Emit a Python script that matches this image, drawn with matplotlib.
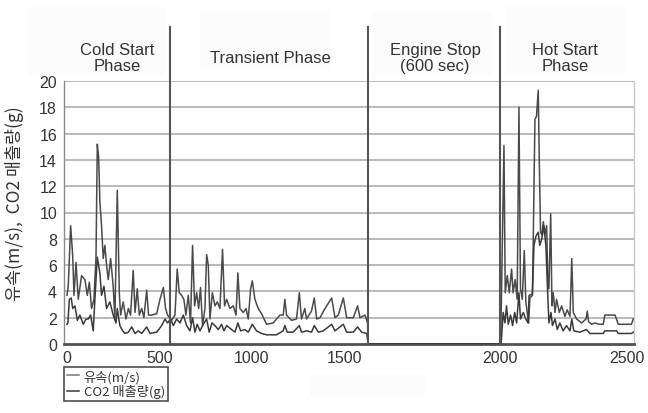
import numpy as np
import matplotlib
matplotlib.use("Agg")
import matplotlib.pyplot as plt
import matplotlib.patches as mpatches

# ---- data ----
flow_t = [0, 7, 20, 31, 38, 49, 61, 79, 97, 110, 121, 133, 146, 157, 164, 171, 178, 187,
          196, 205, 214, 223, 236, 250, 259, 272, 283, 290, 304, 319, 332, 344, 358, 368,
          380, 391, 404, 416, 431, 441, 458, 485, 503, 521, 533, 544, 566, 584, 596, 607,
          620, 632, 643, 656, 668, 679, 690, 701, 712, 722, 733, 746, 755, 764, 773, 786,
          800, 813, 827, 841, 852, 863, 881, 899, 914, 924, 935, 953, 968, 980, 993, 1002,
          1016, 1034, 1052, 1079, 1115, 1151, 1169, 1178, 1187, 1214, 1241, 1256, 1268,
          1286, 1295, 1322, 1337, 1350, 1368, 1395, 1431, 1449, 1467, 1494, 1512, 1548,
          1571, 1584, 1611, 1625, 1628, 2000,
          2003, 2016, 2021, 2029, 2037, 2046, 2052, 2060, 2068, 2075, 2081, 2088, 2096,
          2102, 2113, 2118, 2128, 2131, 2138, 2144, 2151, 2155, 2160, 2165, 2171, 2177,
          2184, 2188, 2193, 2200, 2205, 2210, 2217, 2223, 2234, 2243, 2256, 2265, 2276,
          2283, 2289, 2302, 2322, 2339, 2344, 2349, 2361, 2374, 2391, 2407, 2413, 2433,
          2453, 2459, 2466, 2499, 2518, 2525]
flow_v = [3.7, 4.4, 9.0, 6.7, 3.7, 6.2, 3.4, 5.2, 4.9, 3.7, 4.7, 2.7, 3.4, 6.6, 15.2, 14.3, 10.8, 9.0,
          6.5, 7.5, 6.0, 4.9, 6.5, 4.4, 1.9, 11.7, 3.9, 2.2, 3.2, 1.9, 2.7, 2.2, 5.6, 2.4,
          4.2, 2.2, 2.7, 2.0, 4.1, 2.2, 2.2, 2.3, 3.4, 4.3, 2.7, 2.2, 1.8, 2.2, 5.7, 3.9,
          3.7, 3.4, 2.2, 3.7, 1.6, 7.5, 2.9, 3.9, 2.7, 4.3, 1.4, 2.7, 6.8, 6.0, 1.9, 3.9,
          2.9, 3.2, 2.7, 7.2, 2.9, 3.4, 2.7, 2.9, 2.2, 5.4, 2.7, 2.4, 2.7, 1.9, 4.2, 4.8,
          3.4, 2.7, 2.3, 1.5, 1.6, 2.2, 2.2, 3.4, 2.2, 1.8, 1.9, 3.9, 1.9,
          2.7, 1.9, 2.5, 3.5, 1.9, 2.0, 2.7, 3.5, 2.0, 2.2, 3.5, 2.0, 2.0,
          2.9, 2.0, 2.2, 1.6, 0.0, 0.0,
          0.1, 15.1, 3.9, 5.2, 3.9, 5.7, 3.9, 4.9, 3.4, 18.0, 4.2, 3.4, 7.1,
          3.2, 1.6, 3.5, 3.7, 7.5, 17.1, 17.3, 19.3, 14.0, 8.5, 8.3, 9.3, 8.3,
          9.0, 5.4, 4.2, 9.9, 2.9, 3.9, 2.4, 3.4, 2.4, 2.9, 2.1, 2.6, 2.1,
          6.5, 2.4, 1.9, 1.6, 1.9, 2.5, 1.7, 1.5, 1.6, 1.5, 1.5, 2.2, 2.2,
          2.2, 1.9, 1.5, 1.5, 1.5, 1.9]

co2_t = [0, 5, 13, 23, 31, 43, 56, 70, 88, 103, 115, 128, 142, 153, 164, 171, 178, 187,
         200, 214, 232, 250, 265, 272, 286, 301, 314, 332, 350, 368, 386, 404, 431, 449,
         485, 512, 530, 544, 560, 575, 593, 611, 629, 647, 665, 679, 692, 704, 719, 737,
         755, 769, 784, 800, 818, 836, 849, 863, 890, 908, 924, 939, 962, 980, 1002, 1025,
         1052, 1079, 1133, 1169, 1178, 1191, 1223, 1256, 1268, 1295, 1322, 1337, 1359,
         1386, 1431, 1449, 1494, 1512, 1548, 1571, 1593, 1620, 1628, 2000,
         2005, 2013, 2020, 2026, 2033, 2042, 2050, 2058, 2066, 2075, 2081, 2092, 2102,
         2111, 2115, 2128, 2134, 2142, 2151, 2157, 2165, 2173, 2181, 2188, 2193, 2201,
         2207, 2217, 2226, 2236, 2249, 2262, 2276, 2283, 2291, 2315, 2341, 2354, 2407,
         2413, 2459, 2466, 2518, 2525]
co2_v = [1.5, 1.6, 3.4, 3.5, 2.7, 2.9, 1.8, 2.2, 1.5, 1.9, 1.9, 2.2, 1.0, 3.9, 6.6, 6.0, 5.4, 3.7,
         4.4, 2.7, 3.2, 2.2, 1.6, 2.7, 1.4, 1.0, 0.8, 0.9, 1.3, 0.8, 1.0, 0.8, 1.3, 0.8,
         0.9, 1.4, 1.9, 1.6, 1.9, 1.4, 1.9, 1.6, 2.2, 1.4, 1.0, 2.0, 0.9, 1.5, 1.0, 1.5,
         1.9, 0.9, 1.6, 1.4, 1.1, 1.5, 1.0, 1.4, 1.1, 0.9, 1.6, 1.0, 1.1, 0.9, 1.5, 1.0,
         0.8, 0.7, 0.7, 1.0, 1.4, 0.9, 0.9, 1.4, 0.9, 1.0, 0.9, 1.4, 0.9,
         1.0, 1.5, 1.0, 1.5, 0.9, 0.9, 1.3, 0.9, 0.8, 0.0, 0.0,
         0.1, 2.4, 1.6, 2.9, 1.5, 2.2, 1.4, 2.4, 1.6, 3.9, 1.9, 2.4, 1.9,
         1.6, 3.7, 3.8, 7.5, 8.2, 8.5, 7.5, 8.0, 9.0, 7.5, 3.9, 1.6, 2.4,
         1.4, 1.9, 1.1, 1.6, 1.0, 1.4, 1.0, 1.9, 1.0, 0.9, 1.1, 0.8, 0.8,
         1.0, 1.0, 0.8, 0.8, 0.9]

phase_lines = [557, 1627, 2000]
phase_names = ['Cold Start\nPhase', 'Transient Phase', 'Engine Stop\n(600 sec)', 'Hot Start\nPhase']
phase_pos = [270, 1097, 1817, 2256]
x_ticks = [0, 500, 1000, 1500, 2000, 2500]
y_ticks = list(range(0, 21, 2))
labels = ['유속(m/s)', 'CO2 매출량(g)']

# the original axis is stretched piecewise (stop / hot-start segments wider)
T_BRK = [-100, 1627, 2000, 2600]
U_BRK = [48.5, 368.0, 500.0, 652.4]


def fwd(t):
    return np.interp(t, T_BRK, U_BRK)


def inv(u):
    return np.interp(u, U_BRK, T_BRK)


FONT = ['Liberation Sans', 'DejaVu Sans']
KR = ['Noto Sans CJK KR', 'DejaVu Sans']
TXT = '#333333'

fig = plt.figure(figsize=(6.48, 4.14), dpi=100, facecolor='white')

# faint backgrounds from the pasted original
for (x0, y0, w, h) in [(28, 8, 137, 68), (200, 12, 130, 60), (372, 12, 120, 64),
                       (505, 8, 120, 66), (310, 375, 115, 22)]:
    fig.patches.append(mpatches.Rectangle((x0 / 648, 1 - (y0 + h) / 414), w / 648, h / 414,
                                          transform=fig.transFigure, facecolor='#fcfcfc',
                                          edgecolor='none', zorder=-10))

ax = fig.add_axes([64 / 648, 1 - 345 / 414, 570 / 648, 263 / 414])
ax.set_zorder(2)
ax.set_facecolor('none')
ax.set_xscale('function', functions=(fwd, inv))
ax.set_xlim(-16, 2528)
ax.set_ylim(0, 20)

for y in y_ticks[1:]:
    ax.axhline(y, color='#b4b4b4', lw=1.3, zorder=1)

l1, = ax.plot(flow_t, flow_v, color='#4a4a4a', lw=1.1, zorder=3)
l2, = ax.plot(co2_t, co2_v, color='#3a3a3a', lw=1.1, zorder=3)

for x in phase_lines:
    ax.plot([x, x], [0, 24.1], color='#555555', lw=1.5, clip_on=False, zorder=4)

for name, x in zip(phase_names, phase_pos):
    ax.text(x, 21.8, name, ha='center', va='center', fontsize=12, color=TXT,
            family=FONT, linespacing=1.1)

ax.set_xticks(x_ticks)
ax.set_xticklabels([str(v) for v in x_ticks])
ax.set_yticks(y_ticks)
ax.set_yticklabels([str(v) for v in y_ticks])
ax.minorticks_off()
ax.tick_params(axis='both', length=0, labelsize=11.5, labelcolor=TXT)
ax.tick_params(axis='x', pad=4)
ax.tick_params(axis='y', pad=5)
for lab in ax.get_xticklabels() + ax.get_yticklabels():
    lab.set_family(FONT)

ax.spines['top'].set_visible(False)
ax.spines['bottom'].set_color('#505050')
ax.spines['bottom'].set_linewidth(2)
ax.spines['left'].set_color('#8a8a8a')
ax.spines['left'].set_linewidth(1)
ax.spines['right'].set_color('#c8c8c8')
ax.spines['right'].set_linewidth(1)

fig.text(15 / 648, 1 - 204 / 414, '유속(m/s),  CO2 매출량(g)', rotation=90,
         ha='center', va='center', fontsize=12.5, color=TXT, family=KR)

leg = ax.legend([l1, l2], labels, loc='upper left',
                bbox_to_anchor=(64 / 648, 1 - 368 / 414), bbox_transform=fig.transFigure,
                prop={'family': KR, 'size': 9.5}, frameon=True, fancybox=False,
                handlelength=0.9, handletextpad=0.4, labelspacing=0.1,
                borderpad=0.2, borderaxespad=0)
leg.get_frame().set_edgecolor('#222222')
leg.get_frame().set_linewidth(1.2)
leg.legend_handles[0].set_color('#777777')
for t in leg.get_texts():
    t.set_color(TXT)

fig.savefig('out.png', dpi=100, facecolor='white')
